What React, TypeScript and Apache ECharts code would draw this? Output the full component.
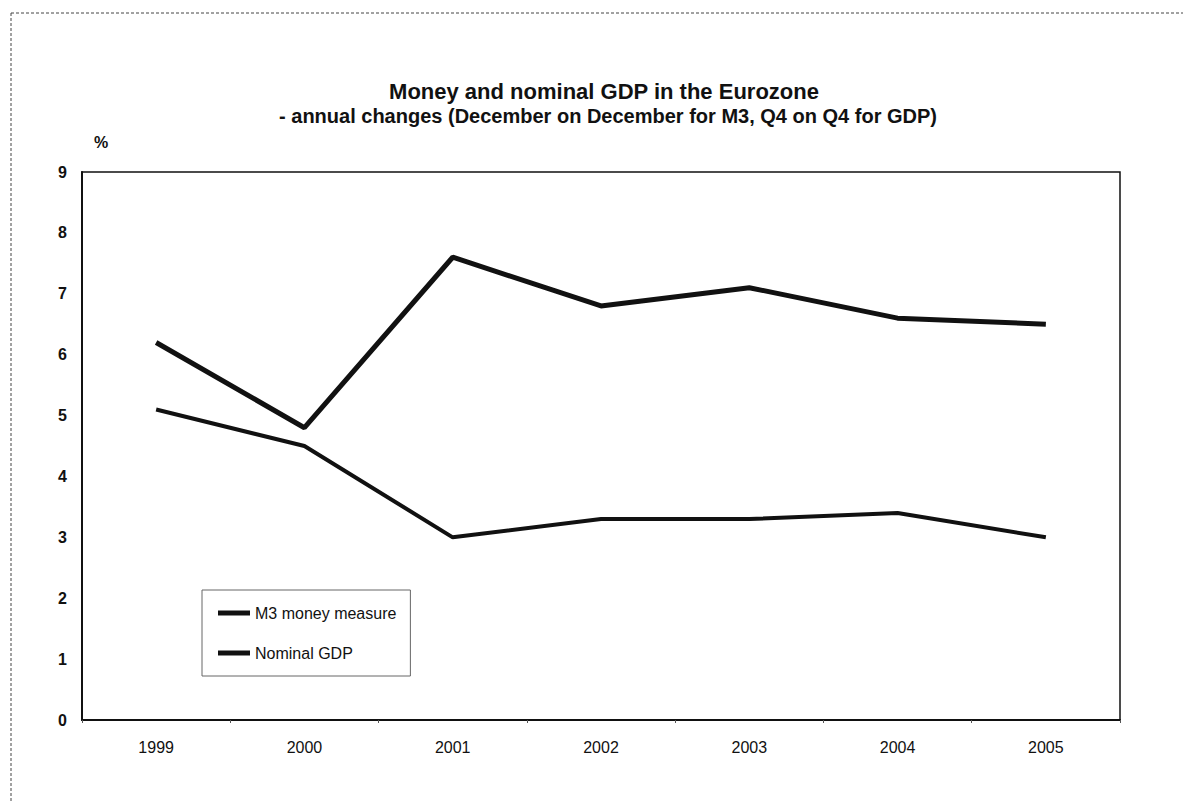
import React, { useEffect, useRef } from "react";
import * as echarts from "echarts";

const years = ["1999", "2000", "2001", "2002", "2003", "2004", "2005"];
const m3Values = [6.2, 4.8, 7.6, 6.8, 7.1, 6.6, 6.5];
const gdpValues = [5.1, 4.5, 3.0, 3.3, 3.3, 3.4, 3.0];
const yTicks = { min: 0, max: 9, interval: 1 };

const FONT = "'Liberation Sans', Arial, sans-serif";

export default function App() {
  const ref = useRef<HTMLDivElement>(null);
  useEffect(() => {
    if (!ref.current) return;
    const chart = echarts.init(ref.current, null, { renderer: "svg" });
    chart.setOption({
      animation: false,
      backgroundColor: "#ffffff",
      grid: {
        left: 82,
        right: 63,
        top: 172,
        bottom: 81,
        show: true,
        borderColor: "#111",
        borderWidth: 1.5,
        containLabel: false,
      },
      graphic: [
        { type: "line", shape: { x1: 11, y1: 13, x2: 1183, y2: 13 }, style: { stroke: "#444", lineWidth: 1, lineDash: [3, 2] } },
        { type: "line", shape: { x1: 11, y1: 13, x2: 11, y2: 801 }, style: { stroke: "#444", lineWidth: 1, lineDash: [3, 2] } },
        {
          type: "text",
          x: 604,
          y: 91,
          style: { text: "Money and nominal GDP in the Eurozone", font: `bold 22px ${FONT}`, fill: "#111", align: "center", verticalAlign: "middle" },
        },
        {
          type: "text",
          x: 608,
          y: 116,
          style: { text: "- annual changes (December on December for M3, Q4 on Q4 for GDP)", font: `bold 20px ${FONT}`, fill: "#111", align: "center", verticalAlign: "middle" },
        },
        {
          type: "text",
          x: 101,
          y: 142,
          style: { text: "%", font: `bold 16px ${FONT}`, fill: "#111", align: "center", verticalAlign: "middle" },
        },
      ],
      legend: {
        orient: "vertical",
        left: 202,
        top: 590,
        padding: [15, 14, 15, 16],
        itemGap: 24,
        itemWidth: 32,
        itemHeight: 5,
        borderColor: "#666",
        borderWidth: 1,
        icon: "rect",
        textStyle: { fontFamily: FONT, fontSize: 16, color: "#111" },
        data: ["M3 money measure", "Nominal GDP"],
      },
      xAxis: {
        type: "category",
        data: years,
        boundaryGap: true,
        axisLine: { lineStyle: { color: "#111", width: 2 } },
        axisTick: { show: true, length: 3, alignWithLabel: false, lineStyle: { color: "#555" } },
        axisLabel: { fontFamily: FONT, fontSize: 16, color: "#111", margin: 19 },
        splitLine: { show: false },
      },
      yAxis: {
        type: "value",
        min: yTicks.min,
        max: yTicks.max,
        interval: yTicks.interval,
        axisLine: { show: true, lineStyle: { color: "#111", width: 2 } },
        axisTick: { show: false },
        axisLabel: { fontFamily: FONT, fontSize: 16, fontWeight: "bold", color: "#111", margin: 15 },
        splitLine: { show: false },
      },
      series: [
        {
          name: "M3 money measure",
          type: "line",
          data: m3Values,
          symbol: "none",
          lineStyle: { color: "#111", width: 5 },
          itemStyle: { color: "#111" },
        },
        {
          name: "Nominal GDP",
          type: "line",
          data: gdpValues,
          symbol: "none",
          lineStyle: { color: "#111", width: 4 },
          itemStyle: { color: "#111" },
        },
      ],
    });
    return () => chart.dispose();
  }, []);
  return (
    <div
      ref={ref}
      style={{ position: "fixed", left: 0, top: 0, width: 1183, height: 801 }}
    />
  );
}
